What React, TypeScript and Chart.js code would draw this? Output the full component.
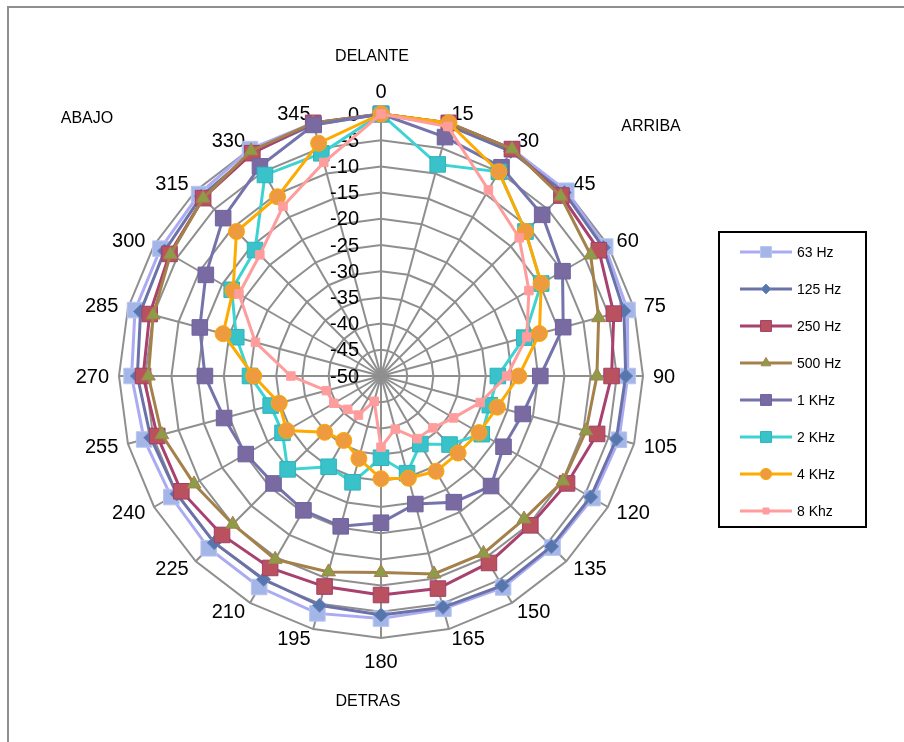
import { useEffect, useRef } from 'react';
import { Chart, registerables } from 'chart.js';

Chart.register(...registerables);

const ANGLES = ['0', '15', '30', '45', '60', '75', '90', '105', '120', '135', '150', '165',
  '180', '195', '210', '225', '240', '255', '270', '285', '300', '315', '330', '345'];
const TICKS = [0, -5, -10, -15, -20, -25, -30, -35, -40, -45, -50];

const HZ_63 = [0, 0, 0, 0, -0.6, -1.3, -2.9, -3, -3.4, -3.7, -3.4, -4, -3.7, -3.1, -3.5, -3.5, -3.8, -3.2, -2.4, -1.4, -1.4, -0.9, 0, 0];
const HZ_125 = [0, -0.5, -0.5, -0.5, -1, -2, -3.3, -3.5, -3.8, -4, -3.8, -4.3, -4.4, -4.7, -5.2, -5, -5, -4.5, -3.5, -2.5, -2.3, -1.5, -0.8, -0.3];
const HZ_250 = [0, 0, 0, -1.3, -2, -4, -6, -7.3, -9, -9.7, -8.8, -8, -8.2, -8.4, -7.7, -7.1, -6, -5.8, -4.6, -4.3, -3.4, -2, -0.9, 0];
const HZ_500 = [0, 0, 0, -1.5, -3.8, -7, -8.8, -9.5, -9.9, -11.4, -10.9, -10.9, -12.5, -11.3, -9.6, -10, -8.8, -6.7, -5.6, -5, -3.6, -2, -0.4, 0];
const KHZ_1 = [0, -2.8, -4, -6.5, -10, -14, -19.6, -22, -23, -20.3, -22.2, -24.7, -22, -20.3, -20.4, -21, -20.2, -19, -16.4, -14.2, -11.4, -7.4, -3.8, -0.4];
const KHZ_2 = [0, -8.2, -5, -11, -14.7, -21.7, -27.7, -28.5, -27.8, -31.5, -35, -30.8, -34.4, -29, -30, -24.8, -28.3, -28.2, -25, -21.4, -17.1, -16, -5.7, -6];
const KHZ_4 = [0, 0, -5, -11, -14.7, -18.7, -23.7, -27, -28.4, -29.2, -29, -29.8, -30.4, -33.7, -35.8, -34.8, -29.2, -29.9, -25.7, -18.8, -17.4, -11, -10.5, -4];
const KHZ_8 = [0, -0.7, -9, -12.7, -17.4, -21.2, -26, -30.4, -34, -36, -36.2, -39.5, -36.4, -45, -41.4, -41, -39.6, -39.2, -32.8, -25.2, -18.7, -17.3, -12.6, -7.8];

type Series = {
  label: string;
  data: number[];
  line: string;
  fill: string;
  edge: string;
  style: 'rect' | 'rectRot' | 'triangle' | 'circle';
  radius: number;
};

const SERIES: Series[] = [
  { label: '63 Hz', data: HZ_63, line: '#ABABF4', fill: '#A4B5E8', edge: '#B8C5EF', style: 'rect', radius: 11 },
  { label: '125 Hz', data: HZ_125, line: '#6B72A8', fill: '#5876AE', edge: '#6A86BC', style: 'rectRot', radius: 7 },
  { label: '250 Hz', data: HZ_250, line: '#A8416E', fill: '#B9515E', edge: '#A13F6B', style: 'rect', radius: 11 },
  { label: '500 Hz', data: HZ_500, line: '#A4814A', fill: '#8E9C4A', edge: '#A4814A', style: 'triangle', radius: 8 },
  { label: '1 KHz', data: KHZ_1, line: '#7473AB', fill: '#7A6AA2', edge: '#6E64A0', style: 'rect', radius: 11 },
  { label: '2 KHz', data: KHZ_2, line: '#3DD3D3', fill: '#3AC2CA', edge: '#2EB3BB', style: 'rect', radius: 11 },
  { label: '4 KHz', data: KHZ_4, line: '#FFAA00', fill: '#EE9A3E', edge: '#FFAA00', style: 'circle', radius: 8 },
  { label: '8 Khz', data: KHZ_8, line: '#FF9C9C', fill: '#FF9C9C', edge: '#FF9C9C', style: 'rect', radius: 6 },
];

const FONT = '"Liberation Sans", Arial, sans-serif';

function drawMarker(ctx: CanvasRenderingContext2D, s: Series, x: number, y: number) {
  ctx.save();
  ctx.fillStyle = s.fill;
  ctx.strokeStyle = s.edge;
  ctx.lineWidth = 1;
  ctx.beginPath();
  const r = s.radius * 0.7;
  if (s.style === 'rect') {
    const h = r * Math.SQRT1_2;
    ctx.rect(x - h, y - h, 2 * h, 2 * h);
  } else if (s.style === 'rectRot') {
    ctx.moveTo(x, y - r);
    ctx.lineTo(x + r, y);
    ctx.lineTo(x, y + r);
    ctx.lineTo(x - r, y);
    ctx.closePath();
  } else if (s.style === 'triangle') {
    ctx.moveTo(x, y - r);
    ctx.lineTo(x + r * 0.87, y + r * 0.5);
    ctx.lineTo(x - r * 0.87, y + r * 0.5);
    ctx.closePath();
  } else {
    ctx.arc(x, y, r, 0, Math.PI * 2);
  }
  ctx.fill();
  ctx.stroke();
  ctx.restore();
}

const decorPlugin = {
  id: 'decor',
  beforeDraw(chart: Chart) {
    const { ctx, width, height } = chart;
    ctx.save();
    ctx.fillStyle = '#ffffff';
    ctx.fillRect(0, 0, width, height);
    ctx.strokeStyle = '#8f8f8f';
    ctx.lineWidth = 2;
    ctx.beginPath();
    ctx.moveTo(8, height);
    ctx.lineTo(8, 7);
    ctx.lineTo(width, 7);
    ctx.stroke();
    ctx.restore();
  },
  beforeDatasetsDraw(chart: Chart) {
    const { ctx } = chart;
    const scale: any = chart.scales.r;
    ctx.save();
    ctx.fillStyle = '#000';
    ctx.font = `20px ${FONT}`;
    ctx.textBaseline = 'middle';
    ctx.textAlign = 'right';
    TICKS.forEach((v) => {
      const d = scale.getDistanceFromCenterForValue(v);
      ctx.fillText(String(v), scale.xCenter - 22, scale.yCenter - d + 1);
    });
    // angle labels: anchored just outside the outer ring, pushed away sideways
    ANGLES.forEach((a, i) => {
      const p = scale.getPointPosition(i, scale.drawingArea + 10);
      const dx = p.x - scale.xCenter;
      if (Math.abs(dx) < 1) {
        const q = scale.getPointPosition(i, scale.drawingArea + 23);
        ctx.textAlign = 'center';
        ctx.fillText(a, q.x, q.y + 1);
      } else {
        ctx.textAlign = dx > 0 ? 'left' : 'right';
        ctx.fillText(a, p.x, p.y + 1);
      }
    });
    ctx.restore();
  },
  afterDraw(chart: Chart) {
    const { ctx } = chart;
    ctx.save();
    ctx.fillStyle = '#000';
    ctx.font = `16px ${FONT}`;
    ctx.textAlign = 'center';
    ctx.textBaseline = 'middle';
    ctx.fillText('DELANTE', 372, 57);
    ctx.fillText('ARRIBA', 651, 127);
    ctx.fillText('ABAJO', 87, 119);
    ctx.fillText('DETRAS', 368, 702);

    // legend
    ctx.strokeStyle = '#000';
    ctx.lineWidth = 2;
    ctx.strokeRect(719, 232, 147, 295);
    ctx.font = `14px ${FONT}`;
    ctx.textAlign = 'left';
    SERIES.forEach((s, i) => {
      const y = 252 + 37 * i;
      ctx.strokeStyle = s.line;
      ctx.lineWidth = 3;
      ctx.beginPath();
      ctx.moveTo(740, y);
      ctx.lineTo(792, y);
      ctx.stroke();
      drawMarker(ctx, s, 766, y);
      ctx.fillStyle = '#000';
      ctx.fillText(s.label, 797, y + 1);
    });
    ctx.restore();
  },
};

export default function App() {
  const canvasRef = useRef<HTMLCanvasElement>(null);

  useEffect(() => {
    if (!canvasRef.current) return;
    const chart = new Chart(canvasRef.current, {
      type: 'radar',
      data: {
        labels: ANGLES,
        datasets: SERIES.map((s, i) => ({
          label: s.label,
          data: s.data,
          borderColor: s.line,
          backgroundColor: s.fill,
          borderWidth: 3,
          fill: false,
          tension: 0,
          pointStyle: s.style,
          pointRadius: s.radius,
          pointBackgroundColor: s.fill,
          pointBorderColor: s.edge,
          pointBorderWidth: 1,
          order: SERIES.length - i,
        })),
      },
      options: {
        responsive: true,
        maintainAspectRatio: false,
        animation: false,
        events: [],
        layout: { padding: { left: 119, top: 114, right: 261, bottom: 104 } },
        plugins: {
          legend: { display: false },
          tooltip: { enabled: false },
        },
        scales: {
          r: {
            min: -50,
            max: 0,
            ticks: { display: false, stepSize: 5 },
            pointLabels: { display: false },
            grid: { color: '#8f8f8f', lineWidth: 2 },
            angleLines: { color: '#8f8f8f', lineWidth: 2 },
          },
        },
      },
      plugins: [decorPlugin],
    });
    return () => { chart.destroy(); };
  }, []);

  return (
    <div style={{ position: 'absolute', left: 0, top: 0, width: 904, height: 742 }}>
      <canvas ref={canvasRef} />
    </div>
  );
}
